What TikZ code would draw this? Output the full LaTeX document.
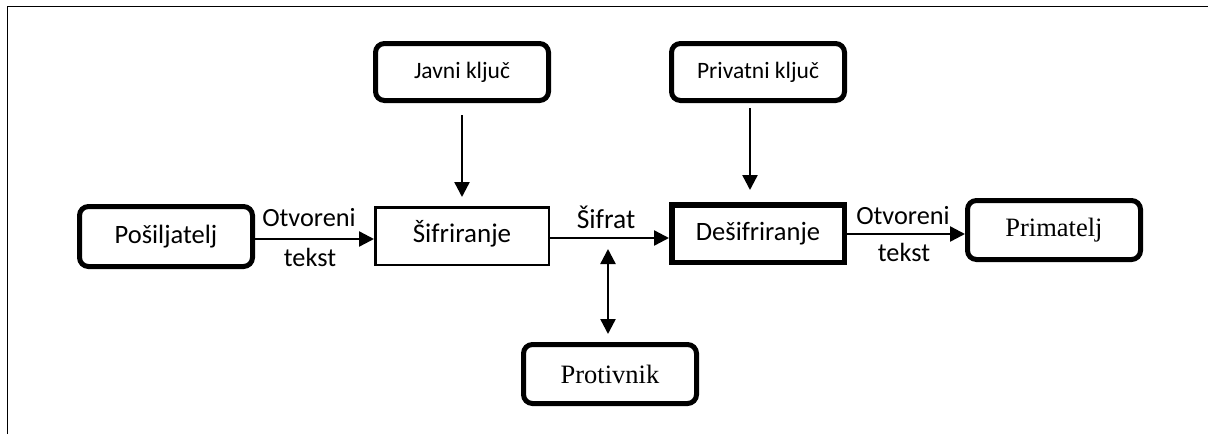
\documentclass[tikz,border=0pt]{standalone}
\usepackage{fontspec}
\setmainfont{Carlito}
\newfontfamily\timesf{Liberation Serif}
\usetikzlibrary{arrows.meta}
\tikzset{
 x=1pt,y=-1pt,
 roundbox/.style={draw,line width=5pt,rounded corners=9pt,inner sep=0pt,anchor=center},
 sqbox/.style={draw,inner sep=0pt,anchor=center},
 conn/.style={line width=2.4pt,-{Triangle[length=15pt,width=15pt]}},
 biconn/.style={line width=2.4pt,{Triangle[length=15pt,width=15pt]}-{Triangle[length=15pt,width=15pt]}},
 lbl/.style={font=\fontsize{26.3}{30}\selectfont,inner sep=0pt,anchor=center},
 small/.style={font=\fontsize{23.5}{28}\selectfont},
 big/.style={font=\fontsize{26.5}{30}\selectfont},
 serif/.style={font=\timesf\fontsize{26.5}{30}\selectfont},
}
\begin{document}
\begin{tikzpicture}
\useasboundingbox (0,0) rectangle (1208,434);
\coordinate (fa) at (7.5,434);
\coordinate (fb) at (7.5,6.5);
\coordinate (fc) at (1208,6.5);
\draw[line width=1.6pt] (fa) -- (fb) -- (fc);
\node[roundbox,small,minimum width=173pt,minimum height=57pt] (javni) at (462,72) {Javni ključ};
\node[roundbox,small,minimum width=173pt,minimum height=57pt] (priv) at (758,72) {Privatni ključ};
\node[roundbox,big,minimum width=173pt,minimum height=60pt] (pos) at (166,236.5) {Pošiljatelj};
\node[sqbox,line width=2.5pt,minimum width=173.5pt,minimum height=57.5pt] (sif) at (462,236) {};
\node[inner sep=0pt,font=\fontsize{27}{30}\selectfont] (siftxt) at (462,234) {Šifriranje};
\node[sqbox,big,line width=5.5pt,minimum width=172.5pt,minimum height=57.5pt] (des) at (758,233.5) {Dešifriranje};
\node[roundbox,serif,minimum width=173pt,minimum height=59pt] (prim) at (1054,230) {Primatelj};
\node[roundbox,serif,minimum width=173pt,minimum height=59pt] (prot) at (610,374) {Protivnik};
\coordinate (ja) at (462,115);
\coordinate (jb) at (462,197);
\coordinate (pa) at (750,108);
\coordinate (pb) at (750,190);
\coordinate (ba) at (608,249);
\coordinate (bb) at (608,334);
\draw[conn] (ja) -- (jb);
\draw[conn] (pa) -- (pb);
\draw[biconn] (ba) -- (bb);
\draw[conn] (pos.east|-0,239) -- (sif.west|-0,239);
\draw[conn] (sif.east|-0,238) -- (des.west|-0,238);
\draw[conn] (des.east|-0,234) -- (prim.west|-0,234);
\node[lbl] (o1) at (309,218) {Otvoreni};
\node[lbl] (t1) at (310,257) {tekst};
\node[lbl,font=\fontsize{27.5}{30}\selectfont] (sf) at (606,217) {Šifrat};
\node[lbl] (o2) at (903,216) {Otvoreni};
\node[lbl] (t2) at (904,252) {tekst};
\end{tikzpicture}
\end{document}
